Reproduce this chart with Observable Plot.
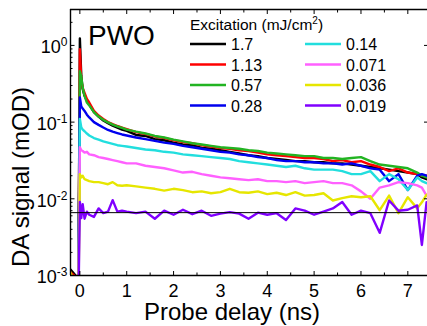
<!DOCTYPE html>
<html><head><meta charset="utf-8">
<script src="https://cdn.jsdelivr.net/npm/d3@7"></script>
<script src="https://cdn.jsdelivr.net/npm/@observablehq/plot@0.6"></script>
<style>
html,body{margin:0;padding:0;background:#fff}
#chart svg{font-family:"Liberation Sans",Arial,sans-serif;display:block}
</style>
</head><body><div id="chart"></div>
<script>
// Probe delay (ns)
const delay = [-0.2, -0.03, 0, 0.03, 0.06, 0.1, 0.15, 0.2, 0.3, 0.4, 0.5, 0.6, 0.7, 0.8, 0.9,
  1.0, 1.2, 1.4, 1.6, 1.8, 2.0, 2.2, 2.4, 2.6, 2.8, 3.0, 3.2, 3.4, 3.6, 3.8, 4.0, 4.2, 4.4, 4.6, 4.8,
  5.0, 5.2, 5.4, 5.6, 5.8, 6.0, 6.2, 6.4, 6.6, 6.8, 7.0, 7.2, 7.3, 7.4];

// DA signal (mOD) per excitation fluence
const sig_1_7 = [0.0012, 0.0009, 1.23, 0.4, 0.27, 0.22, 0.19, 0.17, 0.135, 0.118, 0.105, 0.097, 0.09, 0.085, 0.08,
  0.077, 0.068, 0.066, 0.060, 0.058, 0.054, 0.051, 0.050, 0.046, 0.045, 0.043, 0.041, 0.039, 0.037, 0.036, 0.034,
  0.033, 0.032, 0.031, 0.031, 0.030, 0.030, 0.029, 0.029, 0.028, 0.027, 0.026, 0.025, 0.024, 0.023, 0.022, 0.021,
  0.019, 0.018];
const sig_1_13 = [0.0011, 0.0009, 0.89, 0.35, 0.28, 0.24, 0.2, 0.18, 0.14, 0.122, 0.11, 0.1, 0.094, 0.089, 0.085,
  0.081, 0.074, 0.070, 0.065, 0.062, 0.058, 0.055, 0.053, 0.050, 0.048, 0.046, 0.045, 0.043, 0.042, 0.040, 0.038,
  0.037, 0.036, 0.035, 0.034, 0.034, 0.033, 0.031, 0.032, 0.030, 0.031, 0.028, 0.026, 0.023, 0.025, 0.022, 0.021,
  0.020, 0.020];
const sig_0_57 = [0.0008, 0.0009, 0.46, 0.39, 0.28, 0.22, 0.18, 0.165, 0.135, 0.118, 0.107, 0.099, 0.093, 0.088, 0.084,
  0.080, 0.075, 0.071, 0.066, 0.063, 0.059, 0.056, 0.053, 0.051, 0.049, 0.047, 0.046, 0.045, 0.043, 0.042, 0.040,
  0.039, 0.038, 0.037, 0.036, 0.036, 0.034, 0.034, 0.033, 0.034, 0.035, 0.031, 0.028, 0.027, 0.026, 0.025, 0.022,
  0.020, 0.019];
const sig_0_28 = [0.0009, 0.0008, 0.21, 0.16, 0.15, 0.14, 0.125, 0.115, 0.1, 0.092, 0.085, 0.079, 0.075, 0.072, 0.069,
  0.067, 0.063, 0.060, 0.057, 0.054, 0.052, 0.049, 0.047, 0.045, 0.043, 0.041, 0.040, 0.038, 0.037, 0.035, 0.034,
  0.032, 0.031, 0.031, 0.030, 0.030, 0.029, 0.029, 0.028, 0.029, 0.027, 0.025, 0.024, 0.017, 0.021, 0.013, 0.020,
  0.021, 0.020];
const sig_0_14 = [0.0009, 0.0008, 0.11, 0.085, 0.08, 0.076, 0.071, 0.067, 0.062, 0.059, 0.056, 0.054, 0.052, 0.050, 0.049,
  0.048, 0.046, 0.044, 0.043, 0.041, 0.040, 0.038, 0.037, 0.036, 0.035, 0.034, 0.033, 0.031, 0.030, 0.029, 0.028,
  0.027, 0.026, 0.027, 0.025, 0.024, 0.024, 0.024, 0.023, 0.021, 0.021, 0.023, 0.017, 0.021, 0.018, 0.013, 0.019,
  0.017, 0.016];
const sig_0_071 = [0.0008, 0.0007, 0.047, 0.043, 0.042, 0.040, 0.041, 0.038, 0.037, 0.035, 0.034, 0.033, 0.032, 0.031, 0.030,
  0.029, 0.029, 0.027, 0.026, 0.025, 0.0235, 0.022, 0.0225, 0.021, 0.020, 0.019, 0.0185, 0.018, 0.0175, 0.018, 0.017,
  0.017, 0.0165, 0.017, 0.016, 0.0165, 0.017, 0.016, 0.016, 0.015, 0.0125, 0.010, 0.014, 0.015, 0.0165, 0.016, 0.015,
  0.014, 0.011];
const sig_0_036 = [0.0011, 0.0006, 0.021, 0.019, 0.020, 0.018, 0.0175, 0.017, 0.0165, 0.0165, 0.016, 0.0155, 0.0165, 0.015, 0.0148,
  0.015, 0.0145, 0.014, 0.0135, 0.0128, 0.0135, 0.013, 0.0122, 0.0125, 0.0118, 0.0122, 0.0135, 0.0122, 0.012, 0.0125, 0.0115,
  0.012, 0.0112, 0.0122, 0.011, 0.0112, 0.0118, 0.0095, 0.0102, 0.0108, 0.0105, 0.0108, 0.0071, 0.011, 0.0065, 0.0105, 0.0075,
  0.009, 0.0113];
const sig_0_019 = [0.0007, 0.0005, 0.0091, 0.0056, 0.0085, 0.0055, 0.0068, 0.0062, 0.0058, 0.0075, 0.0065, 0.0068, 0.0096, 0.0068, 0.0070,
  0.0068, 0.0065, 0.0068, 0.0055, 0.0070, 0.0062, 0.0072, 0.0063, 0.0070, 0.0060, 0.0064, 0.0067, 0.0064, 0.0055, 0.0066, 0.0062,
  0.0065, 0.0053, 0.0075, 0.0070, 0.0062, 0.0068, 0.0075, 0.0091, 0.0062, 0.0070, 0.0065, 0.0036, 0.0095, 0.0070, 0.0072, 0.0082,
  0.0025, 0.009];

const seriesLabels = ["1.7", "1.13", "0.57", "0.28", "0.14", "0.071", "0.036", "0.019"];
const seriesValues = [sig_1_7, sig_1_13, sig_0_57, sig_0_28, sig_0_14, sig_0_071, sig_0_036, sig_0_019];
const seriesColors = ["#000000", "#ff0000", "#22b422", "#0000ee", "#22dede", "#ff60ff", "#e6e600", "#8000ff"];

const noiseLevel = [0.0066];

const xDomain = [-0.2, 7.42];
const yDomain = [1e-3, 2.94];
const xMajor = [0, 1, 2, 3, 4, 5, 6, 7];
const xMinor = [0.5, 1.5, 2.5, 3.5, 4.5, 5.5, 6.5];
const yMajor = [1e-3, 1e-2, 1e-1, 1];
const yMinor = [];
for (const d of [1e-3, 1e-2, 1e-1, 1]) for (let k = 2; k <= 9; k++) { const v = d * k; if (v <= yDomain[1]) yMinor.push(v); }

const rows = [];
seriesValues.forEach((vals, si) => vals.forEach((v, i) => rows.push({delay: delay[i], signal: v, series: seriesLabels[si]})));

const font = '"Liberation Sans", Arial, sans-serif';
const blank = () => "";

const chart = Plot.plot({
  width: 427, height: 326,
  marginLeft: 70, marginRight: 0, marginTop: 9, marginBottom: 51,
  x: {domain: xDomain},
  y: {type: "log", domain: yDomain},
  color: {domain: seriesLabels, range: seriesColors},
  style: {fontFamily: font, background: "white", color: "black"},
  marks: [
    Plot.line(rows, {x: "delay", y: "signal", z: "series", stroke: "series", strokeWidth: 2.4, clip: true, strokeLinejoin: "round"}),
    Plot.ruleY(noiseLevel, {stroke: "black", strokeWidth: 1}),
    // axis lines
    Plot.ruleX([xDomain[0]], {stroke: "black", strokeWidth: 1.4}),
    Plot.ruleY([yDomain[0]], {stroke: "black", strokeWidth: 1.4}),
    Plot.ruleY([yDomain[1]], {stroke: "black", strokeWidth: 1.4}),
    // inward ticks
    Plot.axisX({anchor: "bottom", ticks: xMajor, tickSize: -4, tickFormat: blank, label: null}),
    Plot.axisX({anchor: "bottom", ticks: xMinor, tickSize: -2.5, tickFormat: blank, label: null}),
    Plot.axisX({anchor: "top", ticks: xMajor, tickSize: -4, tickFormat: blank, label: null}),
    Plot.axisX({anchor: "top", ticks: xMinor, tickSize: -2.5, tickFormat: blank, label: null}),
    Plot.axisY({anchor: "left", ticks: yMajor, tickSize: -4.5, tickFormat: blank, label: null}),
    Plot.axisY({anchor: "left", ticks: yMinor, tickSize: -2.5, tickFormat: blank, label: null}),
    Plot.axisY({anchor: "right", ticks: yMajor, tickSize: -4, tickFormat: blank, label: null}),
    // tick labels
    Plot.axisX({anchor: "bottom", ticks: xMajor, tickSize: 0, tickPadding: 9, fontSize: 18, label: null}),
    Plot.axisY({anchor: "left", ticks: yMajor, tickSize: 0, tickPadding: 3, fontSize: 18, dy: 2,
      tickFormat: d => "10^" + Math.round(Math.log10(d)), label: null})
  ]
});

// superscript exponents on y tick labels
d3.select(chart).selectAll("text").each(function() {
  const t = this.textContent;
  const m = /^10\^(-?\d+)$/.exec(t);
  if (!m) return;
  const sel = d3.select(this);
  sel.text("");
  sel.append("tspan").text("10");
  sel.append("tspan").attr("dy", -7).attr("font-size", 12).text(m[1]);
});

const svg = d3.select(chart);
const ann = svg.append("g").attr("text-anchor", "start").attr("fill", "black").attr("font-family", font);
// Sample label
ann.append("text").attr("x", 88).attr("y", 45).attr("font-size", 28).text("PWO");
// axis titles
ann.append("text").attr("x", 232).attr("y", 320).attr("text-anchor", "middle").attr("font-size", 24).text("Probe delay (ns)");
ann.append("text").attr("transform", "translate(29,177) rotate(-90)").attr("text-anchor", "middle").attr("font-size", 24).text("DA signal (mOD)");

// legend
const lg = ann.append("g").attr("font-size", 16);
const title = lg.append("text").attr("x", 190).attr("y", 30).attr("font-size", 15.5);
title.append("tspan").text("Excitation (mJ/cm");
title.append("tspan").attr("dy", -6).attr("font-size", 10).text("2");
title.append("tspan").attr("dy", 6).text(")");
seriesLabels.forEach((lab, i) => {
  const col = Math.floor(i / 4), row = i % 4;
  const x0 = col === 0 ? 190 : 305;
  const y0 = 44 + row * 20.5;
  lg.append("line").attr("x1", x0).attr("x2", x0 + 36).attr("y1", y0).attr("y2", y0)
    .attr("stroke", seriesColors[i]).attr("stroke-width", 2.6);
  lg.append("text").attr("x", x0 + 41).attr("y", y0 + 6).text(lab);
});

document.getElementById("chart").appendChild(chart);
</script>
</body></html>
